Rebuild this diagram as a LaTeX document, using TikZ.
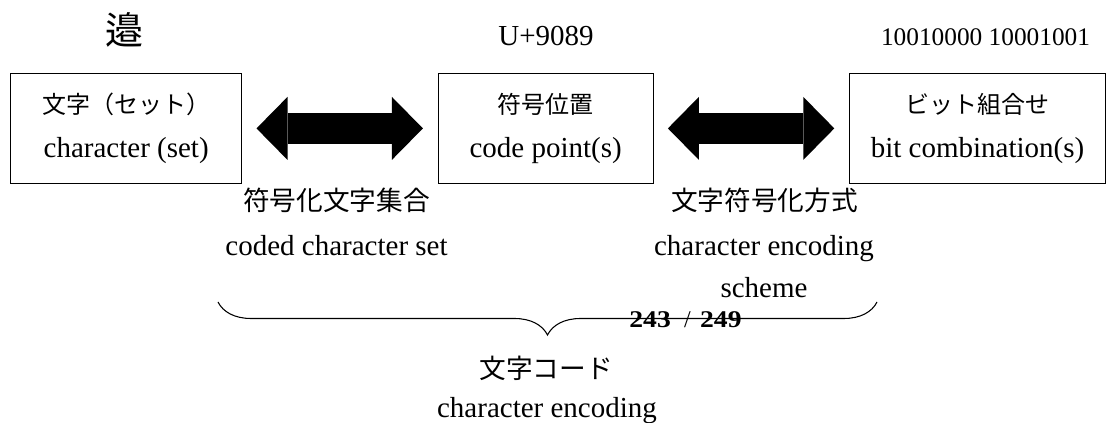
\documentclass[tikz,border=0pt]{standalone}
\usepackage{fontspec}
\setmainfont{Liberation Serif}
\newfontfamily\cjk{Noto Sans CJK JP}
\usepackage{graphicx}
\usetikzlibrary{arrows.meta}
\usetikzlibrary{decorations.pathreplacing}
\usetikzlibrary{positioning}
\tikzstyle{block} = [rectangle, draw, line width=0.8pt, minimum height=82.5pt,
    align=center, inner sep=0pt, font=\fontsize{21.75pt}{32.6pt}\selectfont]
\tikzstyle{txt} = [inner sep=0pt, align=center, font=\fontsize{21.75pt}{31.5pt}\selectfont]
\tikzstyle{jtxt} = [inner sep=0pt, font=\cjk\fontsize{20pt}{24pt}\selectfont]
\tikzstyle{biarrow} = [draw, line width=23.25pt,
    {Triangle[length=23.25pt,width=47.25pt,line width=0pt]}-{Triangle[length=23.25pt,width=47.25pt,line width=0pt]},
    shorten <=10.7pt, shorten >=11pt]

\begin{document}
\begin{tikzpicture}[x=0.75pt,y=-0.75pt,node distance=146.5pt]
    \useasboundingbox (0,0) rectangle (1107,423);
    % Place nodes
    \node [block, minimum width=173.25pt] (chr) at (126.2,128.4)
        {{\cjk\fontsize{18pt}{18pt}\selectfont 文字（セット）}\\character (set)};
    \node [block, minimum width=161.25pt, right=of chr] (cp)
        {{\cjk\fontsize{18pt}{18pt}\selectfont 符号位置}\\code point(s)};
    \node [block, minimum width=192pt, right=of cp] (bc)
        {{\cjk\fontsize{18pt}{18pt}\selectfont ビット組合せ}\\bit combination(s)};

    % examples above the boxes
    \node [jtxt, anchor=base, font=\cjk\fontsize{28.5pt}{30pt}\selectfont] (glyph) at (124.5,45) {邉};
    \node [txt, anchor=base] (ucs) at (546,46) {U+9089};
    \node [txt, anchor=base, font=\fontsize{19pt}{20pt}\selectfont] (bits) at (985.5,46) {10010000 10001001};

    % Draw edges
    \path [biarrow] (chr) -- (cp);
    \path [biarrow] (cp) -- (bc);

    % names of the mappings
    \node [jtxt, anchor=base] (ccsj) at (336.5,210.5) {符号化文字集合};
    \node [txt, anchor=base] (ccs) at (336.5,256) {coded character set};
    \node [jtxt, anchor=base] (cesj) at (764.5,210.5) {文字符号化方式};
    \node [txt, anchor=base] (ces) at (764,298) {character encoding\\scheme};

    % brace over the whole
    \coordinate (bl) at (218,302);
    \coordinate (br) at (877,302);
    \draw [line width=0.8pt, decorate, decoration={brace,mirror,amplitude=24.75pt}] (bl) -- (br);
    \node [anchor=base, inner sep=0pt, font=\fontsize{18pt}{18pt}\selectfont] (pg) at (685.5,328)
        {\scalebox{1.15}[1]{\bfseries 243}\hspace{10pt}/\hspace{7pt}\scalebox{1.15}[1]{\bfseries 249}};
    \node [jtxt, anchor=base] (cej) at (546,378.5) {文字コード};
    \node [txt, anchor=base] (ce) at (547,418) {character encoding};
\end{tikzpicture}
\end{document}
